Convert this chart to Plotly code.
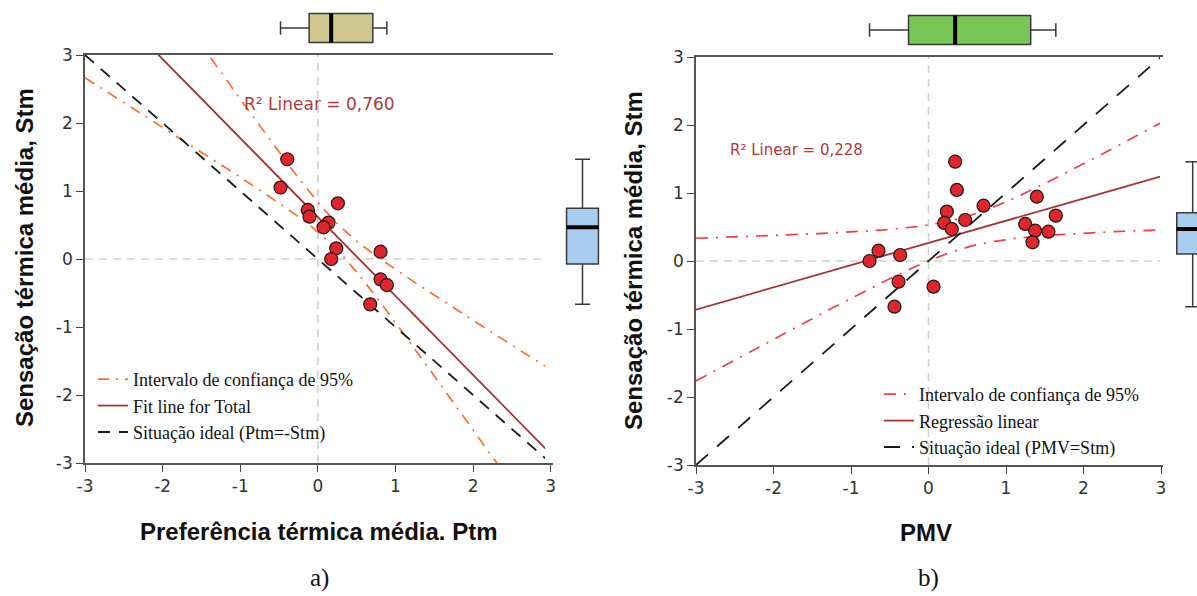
import numpy as np
import plotly.graph_objects as go

# ---------------- data ----------------
# panel a) Preferência térmica média (Ptm) vs Sensação térmica média (Stm)
ptm = [-0.394, -0.481, -0.129, -0.107, 0.258, 0.138, 0.073, 0.237, 0.172, 0.808, 0.808, 0.889, 0.675]
stm_a = [1.467, 1.050, 0.721, 0.623, 0.819, 0.535, 0.466, 0.157, 0.000, 0.108, -0.300, -0.383, -0.667]

# panel b) PMV vs Stm
pmv = [-0.761, -0.645, -0.365, -0.387, -0.439, 0.065, 0.237, 0.203, 0.301, 0.344, 0.366, 0.473,
       0.710, 1.248, 1.398, 1.376, 1.342, 1.548, 1.643]
stm_b = [0.000, 0.152, 0.088, -0.304, -0.672, -0.378, 0.726, 0.560, 0.470, 1.461, 1.045, 0.603,
         0.814, 0.545, 0.946, 0.446, 0.275, 0.431, 0.667]

t_crit = {11: 2.201, 17: 2.110}   # Student t, 95 %, two-sided
r2_labels = ["R² Linear = 0,760", "R² Linear = 0,228"]
legend_a = ["Intervalo de confiança de 95%", "Fit line for Total", "Situação ideal (Ptm=-Stm)"]
legend_b = ["Intervalo de confiança de 95%", "Regressão linear", "Situação ideal (PMV=Stm)"]
axis_range = [-3, 3]
tick_vals = [-3, -2, -1, 0, 1, 2, 3]
tick_text = ["-3", "-2", "-1", "0", "1", "2", "3"]
xtitles = ["Preferência térmica média. Ptm", "PMV"]
ytitle = "Sensação térmica média, Stm"
captions = ["a)", "b)"]

W, H = 1197, 596


def px(v):
    return v / W


def py(v):
    return 1 - v / H


def fit_with_ci(x, y):
    x = np.asarray(x)
    y = np.asarray(y)
    n = len(x)
    b, a = np.polyfit(x, y, 1)
    res = y - (a + b * x)
    s = np.sqrt(np.sum(res ** 2) / (n - 2))
    sxx = np.sum((x - x.mean()) ** 2)
    xs = np.linspace(axis_range[0], axis_range[1], 241)
    yf = a + b * xs
    w = t_crit[n - 2] * s * np.sqrt(1 / n + (xs - x.mean()) ** 2 / sxx)
    return xs, yf, yf - w, yf + w


fig = go.Figure()

dom_a_x = [px(85), px(550.7)]
dom_a_y = [py(463), py(55)]
dom_b_x = [px(696), px(1161)]
dom_b_y = [py(465), py(57)]

marker = dict(size=13, color="#e3242b", line=dict(color="#1a1a1a", width=1.2))
fit_color = "#a83232"


def add_panel(xd, yd, xa, ya, ci_color, ci_dash, ideal_sign, ideal_dash, legend_names, legend_id):
    xs, yf, lo, hi = fit_with_ci(xd, yd)
    ideal_x = np.array(axis_range, dtype=float)
    ideal_y = ideal_sign * ideal_x
    fig.add_trace(go.Scatter(x=xs, y=hi, mode="lines", xaxis=xa, yaxis=ya,
                             line=dict(color=ci_color, width=1.7, dash=ci_dash),
                             name=legend_names[0], legend=legend_id, legendgroup=legend_id + "ci"))
    fig.add_trace(go.Scatter(x=xs, y=lo, mode="lines", xaxis=xa, yaxis=ya,
                             line=dict(color=ci_color, width=1.7, dash=ci_dash),
                             showlegend=False, legendgroup=legend_id + "ci"))
    fig.add_trace(go.Scatter(x=xs, y=yf, mode="lines", xaxis=xa, yaxis=ya,
                             line=dict(color=fit_color, width=1.8),
                             name=legend_names[1], legend=legend_id))
    fig.add_trace(go.Scatter(x=ideal_x, y=ideal_y, mode="lines", xaxis=xa, yaxis=ya,
                             line=dict(color="#1a1a1a", width=1.8, dash=ideal_dash),
                             name=legend_names[2], legend=legend_id))
    fig.add_trace(go.Scatter(x=xd, y=yd, mode="markers", xaxis=xa, yaxis=ya,
                             marker=marker, showlegend=False))


add_panel(ptm, stm_a, "x", "y", "#ff6f28", "11px,7px,2px,7px", -1, "12px,9px", legend_a, "legend")
add_panel(pmv, stm_b, "x2", "y2", "#ef3f4f", "12px,8px,2px,8px", 1, "16px,12px", legend_b, "legend2")


def add_box(data, xa, ya, orient, fill, width):
    kw = dict(xaxis=xa, yaxis=ya, fillcolor=fill, boxpoints=False, width=width,
              line=dict(color="#3a3a3a", width=1.5), whiskerwidth=0.47, showlegend=False,
              quartilemethod="linear", hoverinfo="skip")
    med = float(np.median(data))
    if orient == "h":
        fig.add_trace(go.Box(x=data, y0=0, orientation="h", **kw))
        fig.add_trace(go.Scatter(x=[med, med], y=[-width / 2, width / 2], mode="lines",
                                 xaxis=xa, yaxis=ya, line=dict(color="black", width=4),
                                 showlegend=False, hoverinfo="skip"))
    else:
        fig.add_trace(go.Box(y=data, x0=0, orientation="v", **kw))
        fig.add_trace(go.Scatter(y=[med, med], x=[-width / 2, width / 2], mode="lines",
                                 xaxis=xa, yaxis=ya, line=dict(color="black", width=4),
                                 showlegend=False, hoverinfo="skip"))


add_box(ptm, "x3", "y3", "h", "#cfc98f", 1.37)
add_box(stm_a, "x4", "y4", "v", "#a9cdef", 0.85)
add_box(pmv, "x5", "y5", "h", "#78c656", 1.37)
add_box(stm_b, "x6", "y6", "v", "#a9cdef", 0.85)

tickfont = dict(family="DejaVu Sans", size=17, color="#333")
main_axis = dict(range=axis_range, tickvals=tick_vals, ticktext=tick_text, ticks="outside",
                 ticklen=7, tickwidth=1.3, tickcolor="#444", showline=True, mirror=True,
                 linecolor="#555", linewidth=1.6, showgrid=False, zeroline=False,
                 tickfont=tickfont, fixedrange=True)
hidden = dict(visible=False, showgrid=False, zeroline=False, fixedrange=True)

legend_font = dict(family="Liberation Serif", size=18, color="#111")

fig.update_layout(
    width=W, height=H, margin=dict(l=0, r=0, t=0, b=0, autoexpand=False),
    paper_bgcolor="white", plot_bgcolor="white",
    xaxis=dict(domain=dom_a_x, anchor="y", **main_axis),
    yaxis=dict(domain=dom_a_y, anchor="x", **main_axis),
    xaxis2=dict(domain=dom_b_x, anchor="y2", **main_axis),
    yaxis2=dict(domain=dom_b_y, anchor="x2", **main_axis),
    xaxis3=dict(domain=dom_a_x, anchor="y3", range=axis_range, **hidden),
    yaxis3=dict(domain=[py(49), py(7)], anchor="x3", range=[-1, 1], **hidden),
    xaxis4=dict(domain=[px(545), px(620)], anchor="y4", range=[-1, 1], **hidden),
    yaxis4=dict(domain=dom_a_y, anchor="x4", range=axis_range, **hidden),
    xaxis5=dict(domain=dom_b_x, anchor="y5", range=axis_range, **hidden),
    yaxis5=dict(domain=[py(51), py(9)], anchor="x5", range=[-1, 1], **hidden),
    xaxis6=dict(domain=[px(1160), 1], anchor="y6", range=[-0.872, 0.115], **hidden),
    yaxis6=dict(domain=dom_b_y, anchor="x6", range=axis_range, **hidden),
    legend=dict(x=px(93), y=py(361), xanchor="left", yanchor="top", bgcolor="rgba(0,0,0,0)",
                font=legend_font, itemwidth=30, tracegroupgap=0),
    legend2=dict(x=px(879), y=py(376), xanchor="left", yanchor="top", bgcolor="rgba(0,0,0,0)",
                 font=legend_font, itemwidth=30, tracegroupgap=0),
    showlegend=True,
)

# reference lines at zero
for xa, ya in (("x", "y"), ("x2", "y2")):
    fig.add_shape(type="line", xref=xa, yref=ya, x0=0, x1=0, y0=axis_range[0], y1=axis_range[1],
                  line=dict(color="#cfcfcf", width=1.5, dash="8px,6px"), layer="below")
    fig.add_shape(type="line", xref=xa, yref=ya, y0=0, y1=0, x0=axis_range[0], x1=axis_range[1],
                  line=dict(color="#cfcfcf", width=1.5, dash="8px,6px"), layer="below")

ann_font_bold = dict(family="Liberation Sans", size=24, color="#111")
cap_font = dict(family="Liberation Serif", size=25, color="#111")
annotations = [
    dict(text="<b>%s</b>" % xtitles[0], x=px(319), y=py(531), font=ann_font_bold),
    dict(text="<b>%s</b>" % xtitles[1], x=px(926), y=py(532), font=ann_font_bold),
    dict(text="<b>%s</b>" % ytitle, x=px(24), y=py(258), textangle=-90, font=ann_font_bold),
    dict(text="<b>%s</b>" % ytitle, x=px(634), y=py(261), textangle=-90, font=ann_font_bold),
    dict(text=captions[0], x=px(319), y=py(578), font=cap_font),
    dict(text=captions[1], x=px(928), y=py(578), font=cap_font),
    dict(text=r2_labels[0], x=px(319), y=py(104), font=dict(family="DejaVu Sans", size=17, color="#b03a3a")),
    dict(text=r2_labels[1], x=px(796), y=py(150), font=dict(family="DejaVu Sans", size=15, color="#b03a3a")),
]
for a in annotations:
    a.update(xref="paper", yref="paper", showarrow=False, xanchor="center", yanchor="middle")
fig.update_layout(annotations=annotations)

fig.write_html("out.html", config={"displayModeBar": False},
               post_script="document.body.style.margin='0';document.body.style.padding='0';")
